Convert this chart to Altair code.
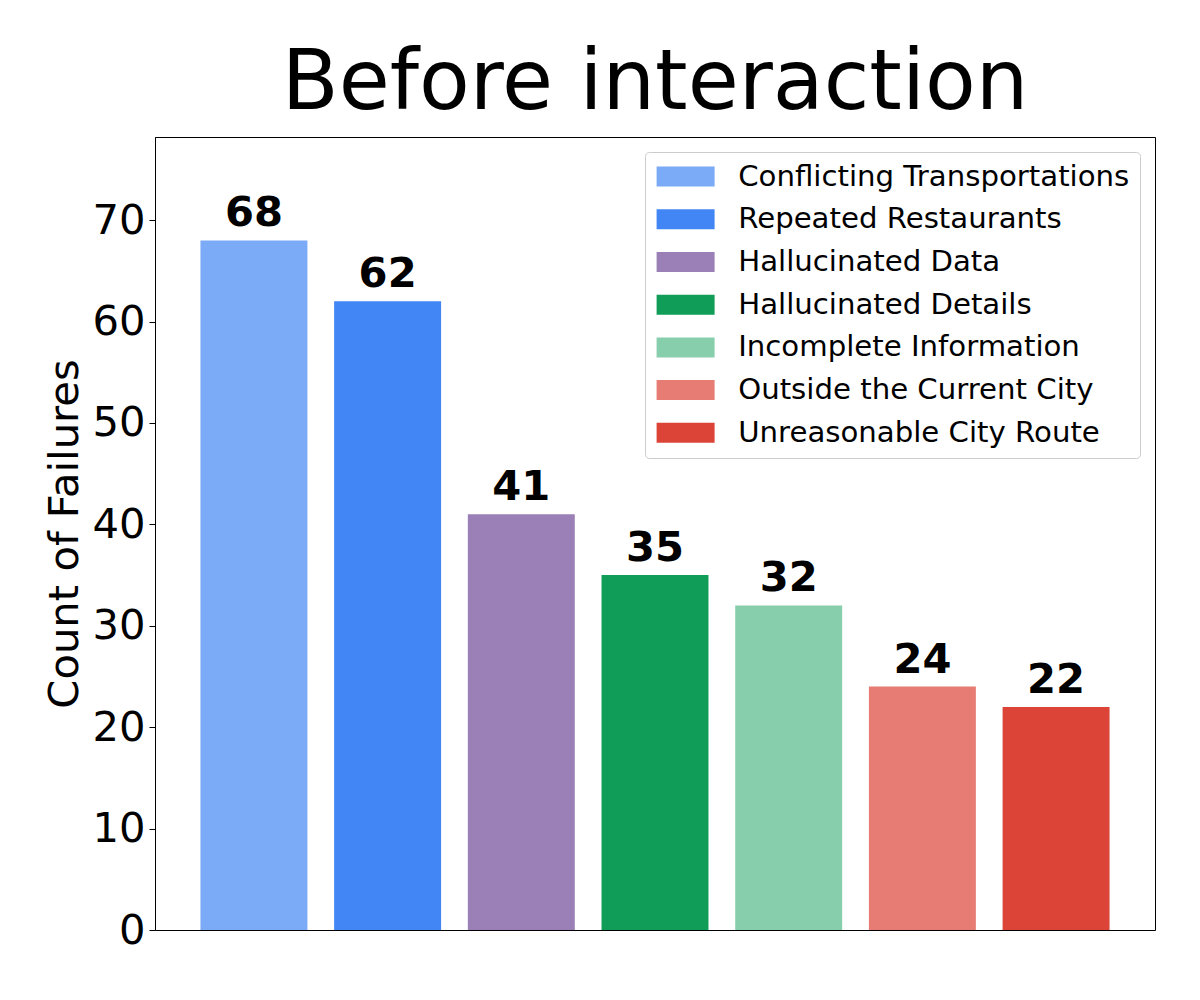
import altair as alt
import pandas as pd

categories = [
    "Conflicting Transportations",
    "Repeated Restaurants",
    "Hallucinated Data",
    "Hallucinated Details",
    "Incomplete Information",
    "Outside the Current City",
    "Unreasonable City Route",
]
counts = [68, 62, 41, 35, 32, 24, 22]
colors = ["#7BAAF7", "#4285F4", "#9A80B6", "#0F9D58", "#87CEAC", "#E67C73", "#DB4437"]
y_ticks = [0, 10, 20, 30, 40, 50, 60, 70]

df = pd.DataFrame({"category": categories, "count": counts})

FONT = "DejaVu Sans"

x_enc = alt.X(
    "category:N",
    sort=categories,
    axis=None,
    scale=alt.Scale(paddingInner=0.2, paddingOuter=0.34),
)
y_enc = alt.Y(
    "count:Q",
    scale=alt.Scale(domain=[0, 78.2], nice=False, zero=True),
    axis=alt.Axis(
        title="Count of Failures",
        values=y_ticks,
        grid=False,
        domain=True,
        domainColor="black",
        tickColor="black",
        tickSize=6,
        labelFontSize=41.7,
        labelFont=FONT,
        labelColor="black",
        labelPadding=4,
        titleFontSize=41.7,
        titleFont=FONT,
        titleFontWeight="normal",
        titleColor="black",
        titlePadding=5,
    ),
)

bars = alt.Chart(df).mark_bar().encode(
    x=x_enc,
    y=y_enc,
    color=alt.Color(
        "category:N",
        sort=categories,
        scale=alt.Scale(domain=categories, range=colors),
        legend=alt.Legend(
            title=None,
            orient="none",
            legendX=490,
            legendY=15,
            symbolType="M-1.3,-1H4.5V1H-1.3Z",
            symbolSize=400,
            symbolStrokeWidth=0,
            labelFontSize=29.2,
            labelFont=FONT,
            labelColor="black",
            labelOffset=54,
            rowPadding=12.7,
            padding=10,
            strokeColor="#cccccc",
            fillColor="white",
            cornerRadius=4,
            labelLimit=600,
        ),
    ),
)

labels = alt.Chart(df).mark_text(
    fontSize=41.7,
    font=FONT,
    fontWeight="bold",
    color="black",
    baseline="alphabetic",
    dy=-14,
).encode(
    x=alt.X("category:N", sort=categories, axis=None),
    y=alt.Y("count:Q"),
    text=alt.Text("count:Q"),
)

chart = (
    alt.layer(bars, labels)
    .properties(
        width=1000,
        height=793,
        title=alt.TitleParams(
            "Before interaction",
            fontSize=83,
            font=FONT,
            fontWeight="normal",
            color="black",
            anchor="middle",
            baseline="alphabetic",
            offset=-55,
        ),
        autosize=alt.AutoSizeParams(type="none"),
        padding={"left": 147, "top": 129, "right": 37, "bottom": 40},
    )
    .configure_view(stroke="black", strokeWidth=1)
)

chart.save("out.html", embed_options={"renderer": "svg", "actions": False})
